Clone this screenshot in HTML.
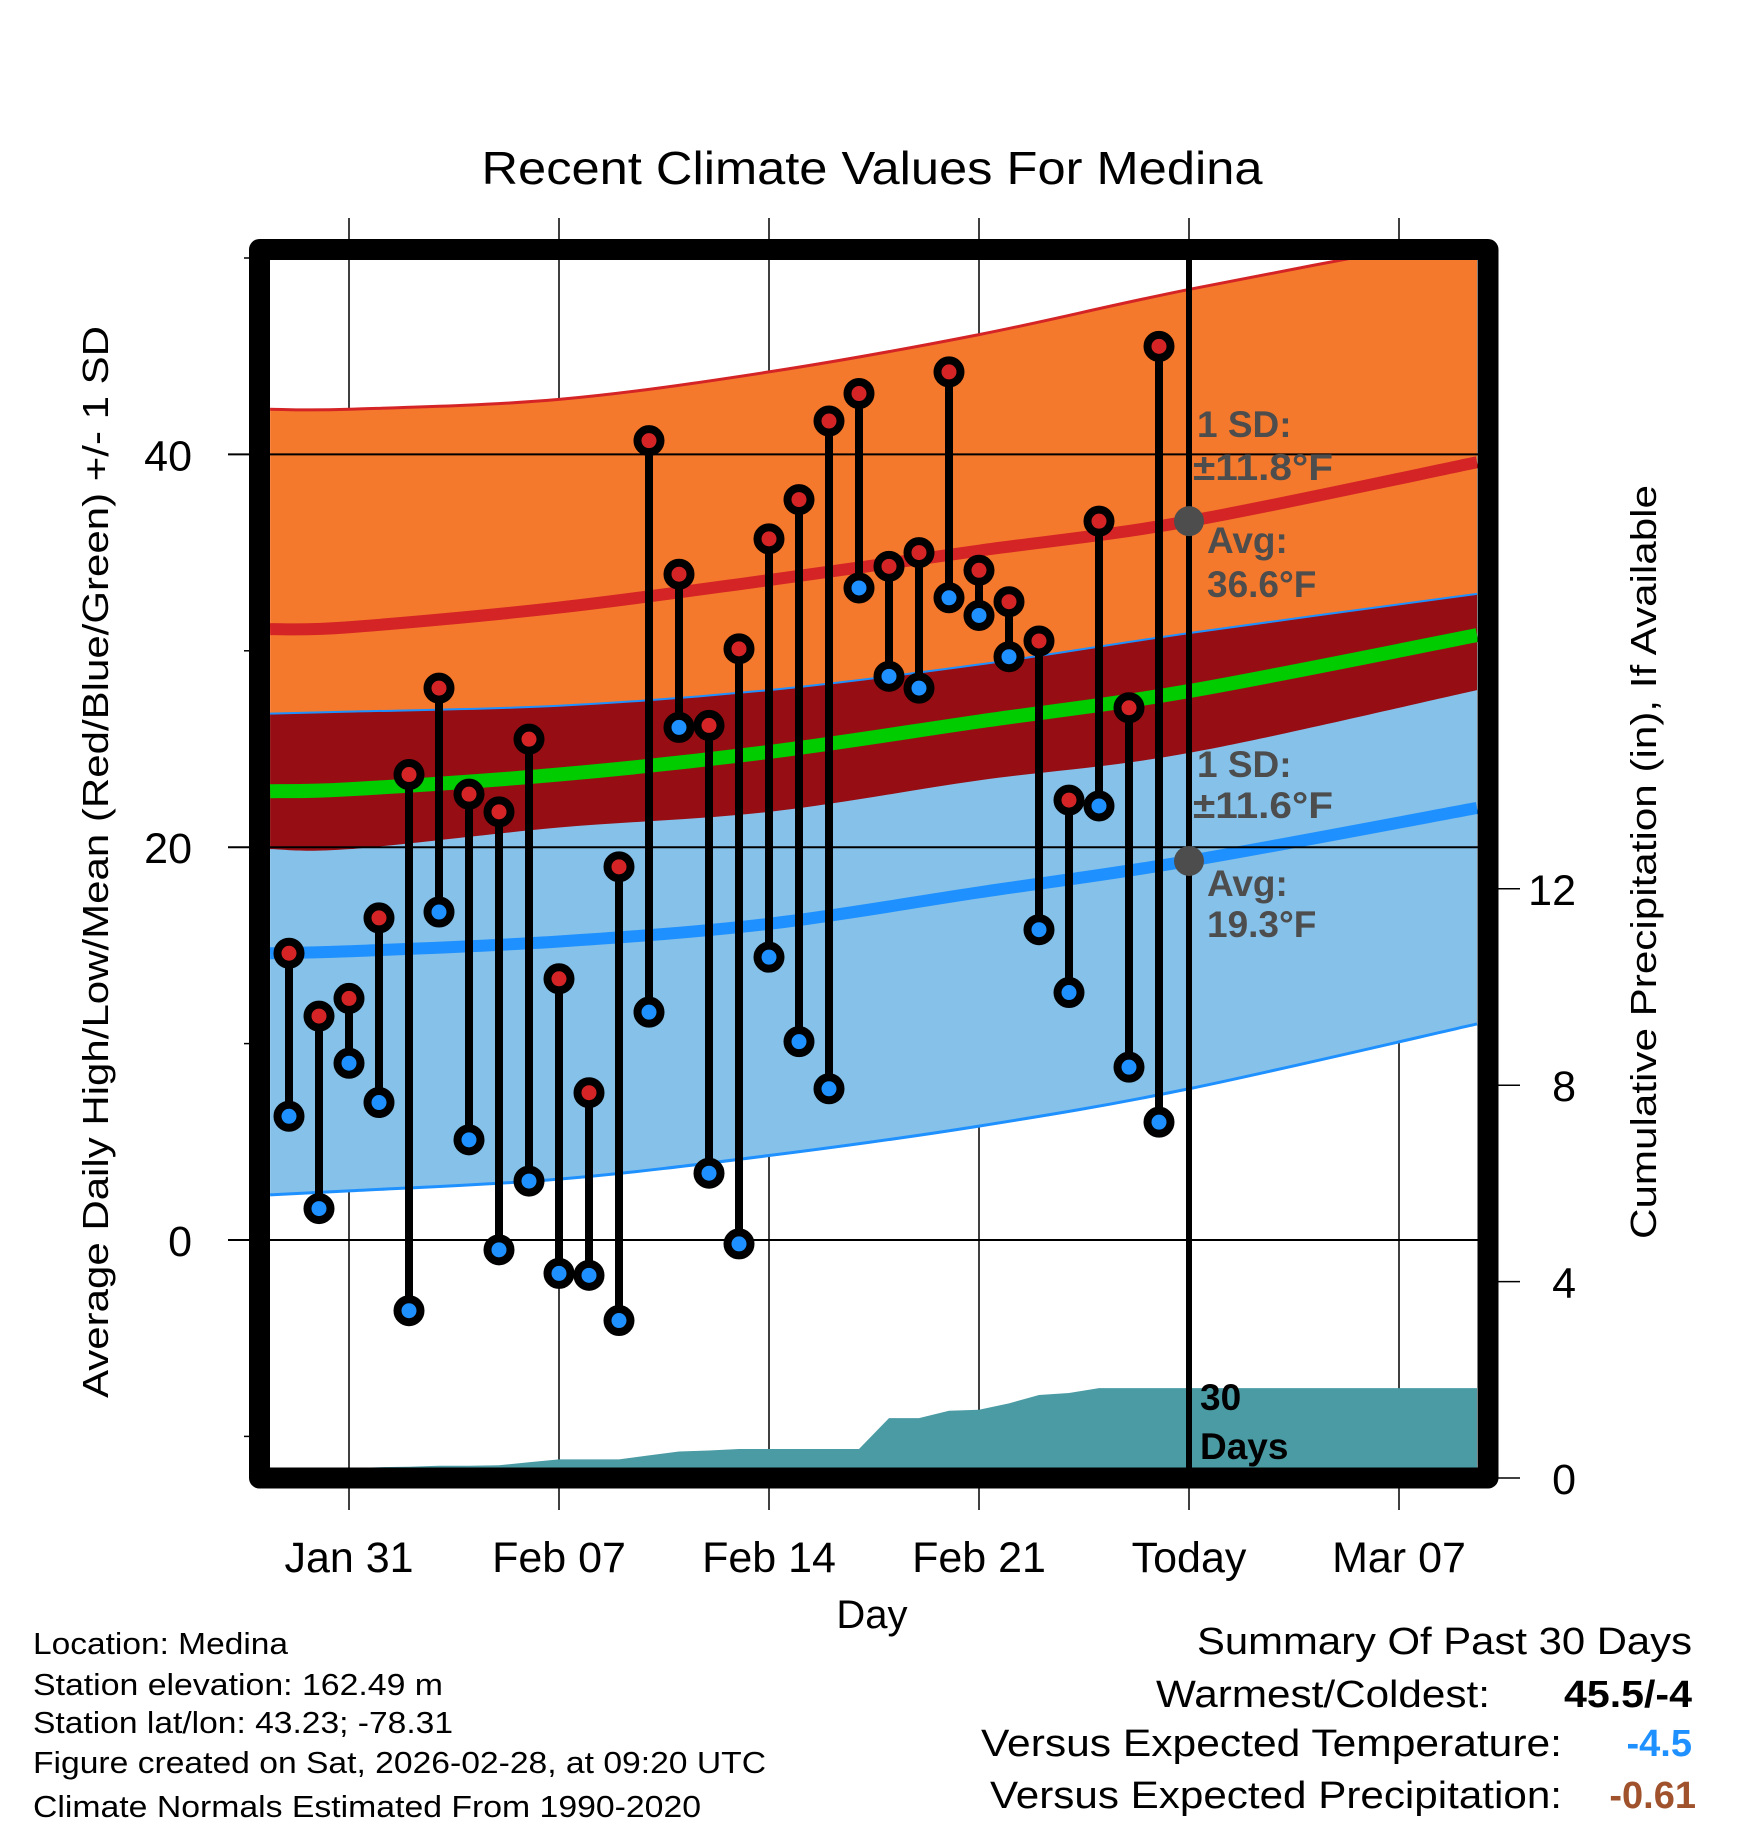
<!DOCTYPE html>
<html><head><meta charset="utf-8"><style>
html,body{margin:0;padding:0;background:#fff;}
svg{display:block;font-family:"Liberation Sans",Arial,sans-serif;}
</style></head><body>
<svg id="chart" width="1748" height="1828" viewBox="0 0 1748 1828" xmlns="http://www.w3.org/2000/svg">
<defs><clipPath id="plotclip"><rect x="270" y="260" width="1208" height="1208"/></clipPath></defs>
<rect x="0" y="0" width="1748" height="1828" fill="#fff"/>
<text x="872" y="184" font-size="46" text-anchor="middle" textLength="781" lengthAdjust="spacingAndGlyphs">Recent Climate Values For Medina</text>
<g id="grid"></g>
<g id="plot" clip-path="url(#plotclip)"></g>
<g id="over"></g>
<rect x="259.5" y="249.5" width="1228.5" height="1228.5" fill="none" stroke="#000" stroke-width="21" stroke-linejoin="round"/>
<g id="axes"></g>
<text transform="translate(108,862) rotate(-90)" font-size="36" text-anchor="middle" textLength="1072" lengthAdjust="spacingAndGlyphs">Average Daily High/Low/Mean (Red/Blue/Green) +/- 1 SD</text>
<text transform="translate(1656,862) rotate(-90)" font-size="36" text-anchor="middle" textLength="754" lengthAdjust="spacingAndGlyphs">Cumulative Precipitation (in), If Available</text>
<text x="872" y="1628" font-size="40" text-anchor="middle">Day</text>
<g font-size="31">
<text x="33" y="1654" textLength="255" lengthAdjust="spacingAndGlyphs">Location: Medina</text>
<text x="33" y="1695" textLength="410" lengthAdjust="spacingAndGlyphs">Station elevation: 162.49 m</text>
<text x="33" y="1733" textLength="420" lengthAdjust="spacingAndGlyphs">Station lat/lon: 43.23; -78.31</text>
<text x="33" y="1773" textLength="733" lengthAdjust="spacingAndGlyphs">Figure created on Sat, 2026-02-28, at 09:20 UTC</text>
<text x="33" y="1817" textLength="668" lengthAdjust="spacingAndGlyphs">Climate Normals Estimated From 1990-2020</text>
</g>
<g font-size="38">
<text x="1692" y="1654" text-anchor="end" textLength="495" lengthAdjust="spacingAndGlyphs">Summary Of Past 30 Days</text>
<text x="1490" y="1707" text-anchor="end" textLength="334" lengthAdjust="spacingAndGlyphs">Warmest/Coldest:</text>
<text x="1692" y="1707" text-anchor="end" font-weight="bold" textLength="128" lengthAdjust="spacingAndGlyphs">45.5/-4</text>
<text x="1562" y="1756" text-anchor="end" textLength="581" lengthAdjust="spacingAndGlyphs">Versus Expected Temperature:</text>
<text x="1692" y="1756" text-anchor="end" font-weight="bold" fill="#1e90ff">-4.5</text>
<text x="1562" y="1808" text-anchor="end" textLength="572" lengthAdjust="spacingAndGlyphs">Versus Expected Precipitation:</text>
<text x="1696" y="1808" text-anchor="end" font-weight="bold" fill="#a0522d">-0.61</text>
</g>
</svg>
<script>
// ---- data ----
var dayLabels = ["Jan 29","Jan 30","Jan 31","Feb 01","Feb 02","Feb 03","Feb 04","Feb 05","Feb 06","Feb 07","Feb 08","Feb 09","Feb 10","Feb 11","Feb 12","Feb 13","Feb 14","Feb 15","Feb 16","Feb 17","Feb 18","Feb 19","Feb 20","Feb 21","Feb 22","Feb 23","Feb 24","Feb 25","Feb 26","Feb 27"];
var dayOffsets = [-2,-1,0,1,2,3,4,5,6,7,8,9,10,11,12,13,14,15,16,17,18,19,20,21,22,23,24,25,26,27];
var highs = [14.6,11.4,12.3,16.4,23.7,28.1,22.7,21.8,25.5,13.3,7.5,19.0,40.7,33.9,26.2,30.1,35.7,37.7,41.7,43.1,34.3,35.0,44.2,34.1,32.5,30.5,22.4,36.6,27.1,45.5];
var lows = [6.3,1.6,9.0,7.0,-3.6,16.7,5.1,-0.5,3.0,-1.7,-1.8,-4.1,11.6,26.1,3.4,-0.2,14.4,10.1,7.7,33.2,28.7,28.1,32.7,31.8,29.7,15.8,12.6,22.1,8.8,6.0];
var precipCum = [0.18,0.20,0.20,0.22,0.23,0.25,0.25,0.26,0.32,0.38,0.38,0.38,0.46,0.54,0.56,0.59,0.59,0.59,0.59,0.59,1.22,1.22,1.37,1.39,1.52,1.69,1.73,1.83,1.83,1.83];
var normDays = [-2.63,0,7,14,21,28,37.6];
var highAvg = [31.1,31.2,32.2,33.6,35.1,36.6,39.6];
var highUpper = [42.3,42.3,42.8,44.2,46.1,48.4,51.2];
var highLower = [19.9,19.9,21.0,21.8,23.4,24.8,28.0];
var lowAvg = [14.6,14.7,15.2,16.1,17.7,19.3,22.0];
var lowUpper = [26.8,26.9,27.2,28.0,29.3,30.9,32.9];
var lowLower = [2.3,2.5,3.1,4.3,5.8,7.7,11.0];
var xTickDays = [0,7,14,21,28,35];
var xTickLabels = ["Jan 31","Feb 07","Feb 14","Feb 21","Today","Mar 07"];
var yTicks = [0,20,40];
var yMinorTicks = [-10,10,30,50];
var y2Ticks = [0,4,8,12];
var todayDay = 28;
var endDay = 37.6;

// ---- scales ----
function X(d){return 349+30*d;}
function Y(t){return 1240-19.64*t;}
function Y2(p){return 1478-49.1*p;}
var NS="http://www.w3.org/2000/svg";
function mk(tag,attrs,parent){var e=document.createElementNS(NS,tag);for(var k in attrs)e.setAttribute(k,attrs[k]);parent.appendChild(e);return e;}
function smooth(pts){
  var d="M"+pts[0][0]+","+pts[0][1];
  for(var i=0;i<pts.length-1;i++){
    var p0=pts[i-1]||pts[i],p1=pts[i],p2=pts[i+1],p3=pts[i+2]||p2;
    var c1x=p1[0]+(p2[0]-p0[0])/6,c1y=p1[1]+(p2[1]-p0[1])/6;
    var c2x=p2[0]-(p3[0]-p1[0])/6,c2y=p2[1]-(p3[1]-p1[1])/6;
    d+=" C"+c1x+","+c1y+" "+c2x+","+c2y+" "+p2[0]+","+p2[1];
  }
  return d;
}
function pts(arr){return normDays.map(function(dd,i){return [X(dd),Y(arr[i])];});}
function band(up,lo){
  var a=pts(up),b=pts(lo).reverse();
  return smooth(a)+" L"+b[0][0]+","+b[0][1]+" "+smooth(b).slice(1).replace(/^[^C]*/,"")+" Z";
}
var grid=document.getElementById("grid"),plot=document.getElementById("plot"),over=document.getElementById("over"),axes=document.getElementById("axes");

var e,i;
e=mk("path",{d:band(highUpper,highLower),fill:"#f5792c"},plot);


e=mk("path",{d:band(lowUpper,lowLower),fill:"#85c1e9"},plot);


e=mk("path",{d:band(lowUpper,highLower),fill:"#960e13"},plot);


e=mk("path",{d:smooth(pts(highUpper)),fill:"none",stroke:"#d42426","stroke-width":3},plot);


e=mk("path",{d:smooth(pts(lowUpper)),fill:"none",stroke:"#1e90ff","stroke-width":2},plot);


e=mk("path",{d:smooth(pts(lowLower)),fill:"none",stroke:"#1e90ff","stroke-width":3},plot);


var meanAvg=highAvg.map(function(h,i){return (h+lowAvg[i])/2;});
e=mk("path",{d:smooth(pts(meanAvg)),fill:"none",stroke:"#00cc00","stroke-width":14},plot);


e=mk("path",{d:smooth(pts(highAvg)),fill:"none",stroke:"#d42426","stroke-width":12},plot);


e=mk("path",{d:smooth(pts(lowAvg)),fill:"none",stroke:"#1e90ff","stroke-width":12},plot);



var pd="M"+X(dayOffsets[0])+","+Y2(0);
for(i=0;i<precipCum.length;i++)pd+=" L"+X(dayOffsets[i])+","+Y2(precipCum[i]);
pd+=" L"+X(endDay)+","+Y2(precipCum[precipCum.length-1])+" L"+X(endDay)+","+Y2(0)+" Z";
e=mk("path",{d:pd,fill:"#4a9ba4"},plot);



for(i=0;i<xTickDays.length;i++){
  var gx=X(xTickDays[i]);
  e=mk("line",{x1:gx,x2:gx,y1:218,y2:1510,stroke:"#000","stroke-width":1.5},grid);
  
  
  e=mk("text",{x:gx,y:1572,"font-size":43,"text-anchor":"middle"},axes);
  e.textContent=xTickLabels[i];
  
  
}
for(i=0;i<yTicks.length;i++){
  var gy=Y(yTicks[i]);
  e=mk("line",{x1:228,x2:1478,y1:gy,y2:gy,stroke:"#000","stroke-width":2},over);
  
  
  e=mk("text",{x:192,y:gy+16,"font-size":43,"text-anchor":"end"},axes);
  e.textContent=yTicks[i];
  
  
}
for(i=0;i<yMinorTicks.length;i++){
  var my=Y(yMinorTicks[i]);
  e=mk("line",{x1:244,x2:252,y1:my,y2:my,stroke:"#000","stroke-width":1.5},axes);
  
  
}
for(i=0;i<y2Ticks.length;i++){
  var ry=Y2(y2Ticks[i]);
  e=mk("line",{x1:1490,x2:1520,y1:ry,y2:ry,stroke:"#000","stroke-width":1.5},axes);
  
  
  e=mk("text",{x:1576,y:ry+16,"font-size":43,"text-anchor":"end"},axes);
  e.textContent=y2Ticks[i];
  
  
}
e=mk("line",{x1:X(todayDay),x2:X(todayDay),y1:260,y2:1468,stroke:"#000","stroke-width":6},over);



for(i=0;i<highs.length;i++){
  var px=X(dayOffsets[i]);
  e=mk("line",{x1:px,x2:px,y1:Y(highs[i]),y2:Y(lows[i]),stroke:"#000","stroke-width":8},over);
  
  
}
for(i=0;i<highs.length;i++){
  px=X(dayOffsets[i]);
  e=mk("circle",{cx:px,cy:Y(lows[i]),r:11.5,fill:"#1e90ff",stroke:"#000","stroke-width":8},over);
  
  
  e=mk("circle",{cx:px,cy:Y(highs[i]),r:11.5,fill:"#d42426",stroke:"#000","stroke-width":8},over);
  
  
}
e=mk("circle",{cx:X(todayDay),cy:Y(highAvg[5]),r:15,fill:"#4d4d4d"},over);


e=mk("circle",{cx:X(todayDay),cy:Y(lowAvg[5]),r:15,fill:"#4d4d4d"},over);



var ann=[["1 SD:",1197,437],["\u00B111.8\u00B0F",1193,480],["Avg:",1207,553],["36.6\u00B0F",1207,597],
         ["1 SD:",1197,777],["\u00B111.6\u00B0F",1193,818],["Avg:",1207,896],["19.3\u00B0F",1207,937]];
for(i=0;i<ann.length;i++){
  e=mk("text",{x:ann[i][1],y:ann[i][2],"font-size":37,"font-weight":"bold",fill:"#4d4d4d"},over);
  if(ann[i][0].charAt(0)==="\u00B1"){e.setAttribute("textLength","140");e.setAttribute("lengthAdjust","spacingAndGlyphs");}
  e.textContent=ann[i][0];
  
  
}
e=mk("text",{x:1200,y:1410,"font-size":37,"font-weight":"bold",fill:"#000"},over);
e.textContent="30";


e=mk("text",{x:1200,y:1459,"font-size":37,"font-weight":"bold",fill:"#000"},over);
e.textContent="Days";


</script>
</body></html>
